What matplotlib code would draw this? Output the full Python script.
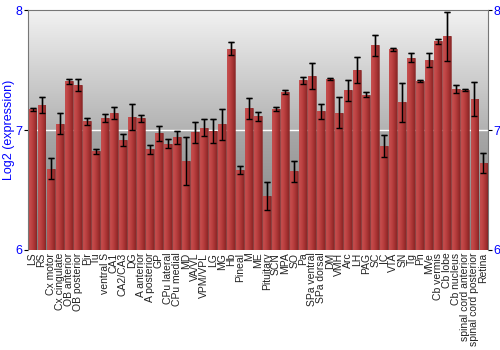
import numpy as np
import matplotlib
matplotlib.use('Agg')
from matplotlib import pyplot as plt
from matplotlib.colors import LinearSegmentedColormap

regions = [
	'LS', 'RS', 'Cx motor', 'Cx cingulate', 'OB anterior', 'OB posterior',
	'Pir', 'Tu', 'ventral S', 'CA1', 'CA2/CA3', 'DG', 'A anterior',
	'A posterior', 'GP', 'CPu lateral', 'CPu medial', 'MD', 'VA/VL',
	'VPM/VPL', 'LG', 'MG', 'Hb', 'Pineal', 'M', 'ME', 'Pituitary', 'SCN',
	'MPA', 'SO', 'Pa', 'SPa ventral', 'SPa dorsal', 'DM', 'VMH', 'Arc', 'LH',
	'PAG', 'SC', 'IC', 'VTA', 'SN', 'Tg', 'Pn', 'MVe', 'Cb vermis', 'Cb lobe',
	'Cb nucleus', 'spinal cord anterior', 'spinal cord posterior', 'Retina']
expression = [
	7.172, 7.21, 6.679, 7.053, 7.407, 7.377, 7.072, 6.823, 7.10, 7.141,
	6.917, 7.108, 7.097, 6.839, 6.972, 6.886, 6.939, 6.745, 6.98, 7.019,
	6.989, 7.047, 7.679, 6.665, 7.182, 7.114, 6.453, 7.175, 7.317, 6.656,
	7.414, 7.453, 7.156, 7.425, 7.144, 7.333, 7.50, 7.294, 7.708, 6.864,
	7.672, 7.231, 7.603, 7.408, 7.583, 7.739, 7.781, 7.342, 7.333, 7.258,
	6.725]
errors = [
	0.01, 0.067, 0.09, 0.09, 0.02, 0.05, 0.03, 0.02, 0.03, 0.05,
	0.047, 0.108, 0.03, 0.04, 0.06, 0.04, 0.057, 0.20, 0.09, 0.07,
	0.10, 0.13, 0.053, 0.035, 0.087, 0.036, 0.117, 0.014, 0.014, 0.087,
	0.027, 0.11, 0.061, 0.011, 0.13, 0.088, 0.11, 0.02, 0.088, 0.093,
	0.015, 0.163, 0.039, 0.008, 0.061, 0.019, 0.204, 0.033, 0.011, 0.14,
	0.08]
y_ticks = [6, 7, 8]

plt.rcParams['font.family'] = ['Liberation Sans', 'DejaVu Sans']

fig = plt.figure(figsize=(5, 3.5), dpi=100)
ax = fig.add_axes([0.056, 0.286, 0.92, 0.685])
ax.set_xlim(-0.5, len(regions) - 0.5)
ax.set_ylim(6, 8)

# grey background, light at the top, darker towards the bottom
bg = LinearSegmentedColormap.from_list(
	'bg', [(0, '#808080'), (0.5, '#a8a8a8'), (0.5, '#b2b2b2'), (1, '#f2f2f2')])
grad = np.linspace(0, 1, 256).reshape(-1, 1)
ax.imshow(grad, cmap=bg, origin='lower', aspect='auto',
	extent=(-0.5, len(regions) - 0.5, 6, 8), zorder=0)
ax.axhline(7, color='white', lw=1, zorder=1)

x = np.arange(len(regions))
ax.errorbar(x, expression, yerr=errors, fmt='none', ecolor='#222222',
	elinewidth=1, capsize=2, capthick=1, zorder=2)
bars = ax.bar(x, np.array(expression) - 6, bottom=6, width=0.88,
	color='#b83c3c', edgecolor='#7a2020', linewidth=0.4, zorder=3, alpha=0.9)

# horizontal shading inside each bar
shade = LinearSegmentedColormap.from_list(
	'shade', ['#cc5050', '#c04444', '#a83232', '#842222'])
hgrad = np.linspace(0, 1, 64).reshape(1, -1)
for bar in bars:
	bx, by = bar.get_x(), bar.get_y()
	im = ax.imshow(hgrad, cmap=shade, aspect='auto', alpha=0.85,
		extent=(bx, bx + bar.get_width(), by, by + bar.get_height()), zorder=3)
	im.set_clip_path(bar)
ax.errorbar(x, expression, yerr=errors, fmt='none', ecolor='black',
	elinewidth=1, capsize=2, capthick=1, zorder=4)
ax.set_xlim(-0.5, len(regions) - 0.5)
ax.set_ylim(6, 8)

ax.set_xticks(x)
ax.set_xticklabels(regions, rotation=90, fontsize=7.5, color='#222222')
ax.tick_params(axis='x', length=0, pad=2)
ax.set_yticks(y_ticks)
ax.set_yticklabels([str(t) for t in y_ticks], color='blue', fontsize=9)
ax.tick_params(axis='y', length=3, width=0.8, colors='black', labelcolor='blue',
	pad=1, right=True, labelright=True)
ax.set_ylabel('Log2 (expression)', color='blue', fontsize=9, labelpad=0)
for side in ('top', 'left', 'right'):
	ax.spines[side].set_color('#777777')
	ax.spines[side].set_linewidth(0.8)
ax.spines['bottom'].set_visible(False)

plt.savefig('out.png', dpi=100)
